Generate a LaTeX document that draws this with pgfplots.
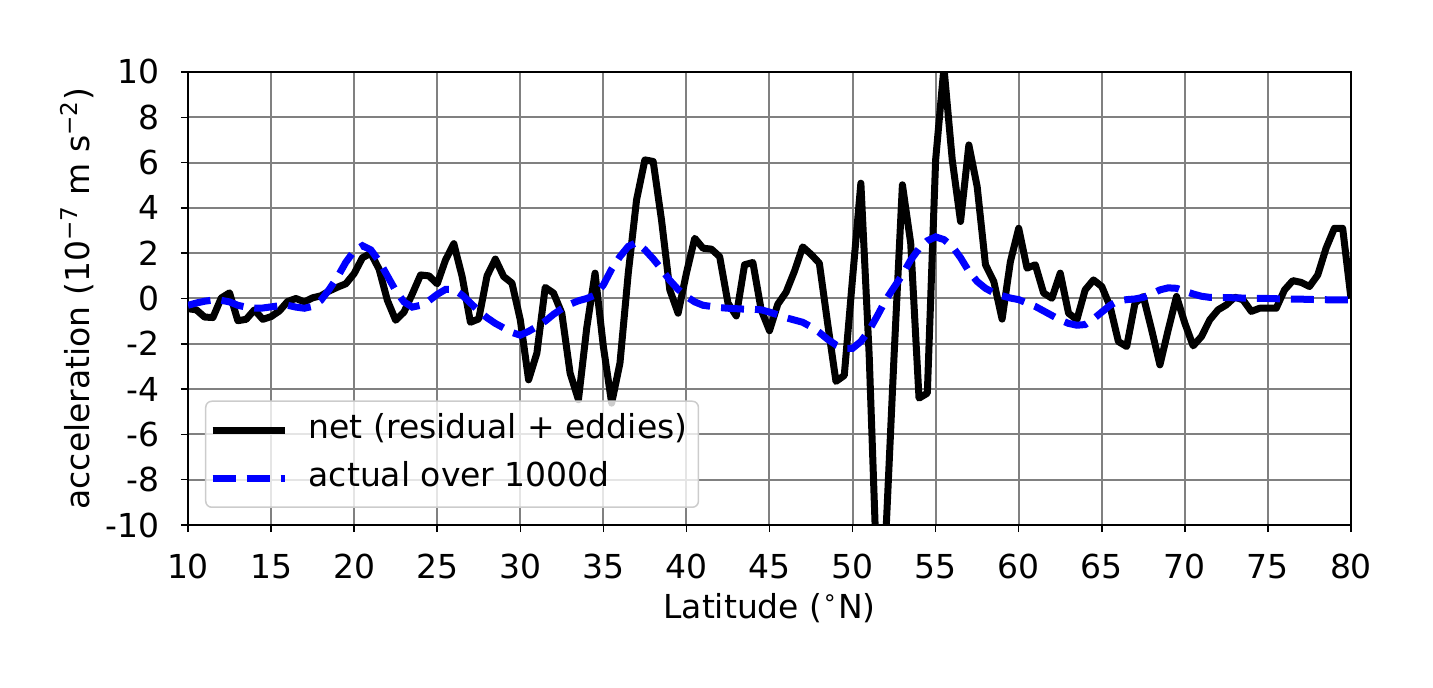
\documentclass[border=0pt]{standalone}
\usepackage{fontspec}
\setmainfont{DejaVu Sans}
\usepackage{pgfplots}
\usepackage{pgfplotstable}
\pgfplotsset{compat=1.18}

% net acceleration (residual + eddies), 0.5 deg grid
\pgfplotstableread{
lat val
10.0 -0.45
10.5 -0.5
11.0 -0.82
11.5 -0.84
12.0 0.02
12.5 0.25
13.0 -0.98
13.5 -0.92
14.0 -0.5
14.5 -0.92
15.0 -0.8
15.5 -0.55
16.0 -0.13
16.5 0.0
17.0 -0.15
17.5 0.03
18.0 0.12
18.5 0.33
19.0 0.5
19.5 0.65
20.0 1.1
20.5 1.8
21.0 2.0
21.5 1.3
22.0 -0.08
22.5 -0.96
23.0 -0.6
23.5 0.2
24.0 1.04
24.5 1.0
25.0 0.65
25.5 1.7
26.0 2.42
26.5 0.97
27.0 -1.05
27.5 -0.9
28.0 1.0
28.5 1.74
29.0 0.97
29.5 0.68
30.0 -0.94
30.5 -3.59
31.0 -2.41
31.5 0.49
32.0 0.24
32.5 -0.65
33.0 -3.30
33.5 -4.47
34.0 -1.3
34.5 1.12
35.0 -2.12
35.5 -4.62
36.0 -2.85
36.5 1.12
37.0 4.36
37.5 6.12
38.0 6.05
38.5 3.47
39.0 0.38
39.5 -0.65
40.0 1.12
40.5 2.66
41.0 2.22
41.5 2.18
42.0 1.85
42.5 -0.2
43.0 -0.77
43.5 1.49
44.0 1.59
44.5 -0.5
45.0 -1.42
45.5 -0.25
46.0 0.28
46.5 1.2
47.0 2.28
47.5 1.95
48.0 1.56
48.5 -1.1
49.0 -3.66
49.5 -3.4
50.0 0.9
50.5 5.09
51.0 -2.5
51.5 -13
52.0 -10.5
52.5 -2.5
53.0 5.02
53.5 2.44
54.0 -4.40
54.5 -4.18
55.0 6.12
55.5 10.2
56.0 6.12
56.5 3.40
57.0 6.78
57.5 4.94
58.0 1.49
58.5 0.75
59.0 -0.91
59.5 1.63
60.0 3.1
60.5 1.34
61.0 1.49
61.5 0.24
62.0 0.01
62.5 1.12
63.0 -0.65
63.5 -0.94
64.0 0.38
64.5 0.82
65.0 0.53
65.5 -0.35
66.0 -1.9
66.5 -2.12
67.0 -0.2
67.5 0.09
68.0 -1.38
68.5 -2.93
69.0 -1.38
69.5 0.09
70.0 -1.09
70.5 -2.09
71.0 -1.68
71.5 -0.94
72.0 -0.5
72.5 -0.28
73.0 0.06
73.5 -0.06
74.0 -0.57
74.5 -0.43
75.0 -0.43
75.5 -0.43
76.0 0.38
76.5 0.79
77.0 0.71
77.5 0.53
78.0 1.04
78.5 2.22
79.0 3.1
79.5 3.1
80.0 0.0
}\netdata

% actual acceleration over 1000 days
\pgfplotstableread{
lat val
10.0 -0.3
10.5 -0.2
11.0 -0.12
11.5 -0.07
12.0 -0.08
12.5 -0.15
13.0 -0.3
13.5 -0.38
14.0 -0.43
14.5 -0.42
15.0 -0.37
15.5 -0.32
16.0 -0.3
16.5 -0.38
17.0 -0.43
17.5 -0.35
18.0 -0.08
18.5 0.4
19.0 0.95
19.5 1.6
20.0 2.1
20.5 2.33
21.0 2.15
21.5 1.65
22.0 1.0
22.5 0.35
23.0 -0.15
23.5 -0.38
24.0 -0.3
24.5 -0.1
25.0 0.18
25.5 0.4
26.0 0.4
26.5 0.15
27.0 -0.2
27.5 -0.55
28.0 -0.85
28.5 -1.1
29.0 -1.3
29.5 -1.5
30.0 -1.62
30.5 -1.45
31.0 -1.24
31.5 -1.0
32.0 -0.7
32.5 -0.45
33.0 -0.25
33.5 -0.1
34.0 0.0
34.5 0.15
35.0 0.6
35.5 1.3
36.0 1.85
36.5 2.3
37.0 2.47
37.5 2.15
38.0 1.75
38.5 1.3
39.0 0.8
39.5 0.4
40.0 0.09
40.5 -0.15
41.0 -0.3
41.5 -0.35
42.0 -0.4
42.5 -0.43
43.0 -0.45
43.5 -0.47
44.0 -0.47
44.5 -0.5
45.0 -0.6
45.5 -0.72
46.0 -0.85
46.5 -0.95
47.0 -1.05
47.5 -1.25
48.0 -1.5
48.5 -1.8
49.0 -2.05
49.5 -2.2
50.0 -2.2
50.5 -1.9
51.0 -1.4
51.5 -0.75
52.0 -0.06
52.5 0.5
53.0 1.05
53.5 1.7
54.0 2.2
54.5 2.55
55.0 2.72
55.5 2.6
56.0 2.3
56.5 1.8
57.0 1.2
57.5 0.75
58.0 0.45
58.5 0.25
59.0 0.12
59.5 0.02
60.0 -0.05
60.5 -0.2
61.0 -0.35
61.5 -0.55
62.0 -0.75
62.5 -0.95
63.0 -1.1
63.5 -1.18
64.0 -1.15
64.5 -0.9
65.0 -0.6
65.5 -0.3
66.0 -0.1
66.5 -0.05
67.0 -0.02
67.5 0.05
68.0 0.2
68.5 0.38
69.0 0.47
69.5 0.45
70.0 0.32
70.5 0.2
71.0 0.1
71.5 0.05
72.0 0.05
73.0 0.03
74.0 0.01
75.0 0.0
76.0 -0.02
77.0 -0.03
78.0 -0.05
79.0 -0.06
80.0 -0.06
}\actualdata

\begin{document}
\begin{tikzpicture}
\path[use as bounding box] (-94bp,-81.5bp) rectangle (622.5bp,262.5bp);
\begin{axis}[
    at={(0,0)}, anchor=south west,
    scale only axis,
    width=581.5bp, height=226.5bp,
    font=\fontsize{16.5bp}{20bp}\selectfont,
    xmin=10, xmax=80,
    ymin=-10, ymax=10,
    xtick={10,15,...,80},
    ytick={-10,-8,...,10},
    /pgf/number format/assume math mode=true,
    xticklabel style={anchor=base, inner sep=0pt, yshift=-23bp},
    yticklabel style={anchor=east, inner sep=0pt, xshift=-10.5bp, text height=12bp, text depth=0pt},
    xlabel={Latitude (\textsuperscript{∘}N)},
    ylabel={acceleration (10\textsuperscript{−7} m s\textsuperscript{−2})},
    xlabel style={at={(axis description cs:0.5,0)}, anchor=base, inner sep=0pt, yshift=-46.5bp},
    ylabel style={at={(axis description cs:-0.0845,0.5)}, anchor=base, inner sep=0pt},
    grid=major,
    major grid style={draw=gray, line width=1bp},
    axis line style={line width=0.75bp},
    tick align=outside,
    major tick length=3.5bp,
    tick style={black, line width=0.75bp},
    xtick pos=bottom, ytick pos=left,
    legend cell align=left,
    legend style={
        at={(0,0)}, anchor=south west, xshift=8.5bp, yshift=8.5bp,
        draw=gray!40, line width=0.75bp, rounded corners=3bp,
        fill=white, fill opacity=0.8, text opacity=1,
        inner xsep=5.5bp, inner ysep=6.5bp,
        row sep=8bp, column sep=12bp,
        nodes={inner sep=0pt, text height=12bp, text depth=4bp},
    },
    legend image code/.code={
        \path[draw=none, fill=none, use as bounding box] (2bp,-3bp) rectangle (36bp,3bp);
        \draw[#1, sharp corners] (0bp,0bp) -- (36bp,0bp);},
]
\addplot[black, line width=3.5bp, line join=round] table[x=lat, y=val] {\netdata};
\addlegendentry{net (residual + eddies)}
\addplot[blue, line width=3.5bp, dash pattern=on 11.5bp off 5.5bp] table[x=lat, y=val] {\actualdata};
\addlegendentry{actual over 1000d}
\end{axis}
\end{tikzpicture}
\end{document}
